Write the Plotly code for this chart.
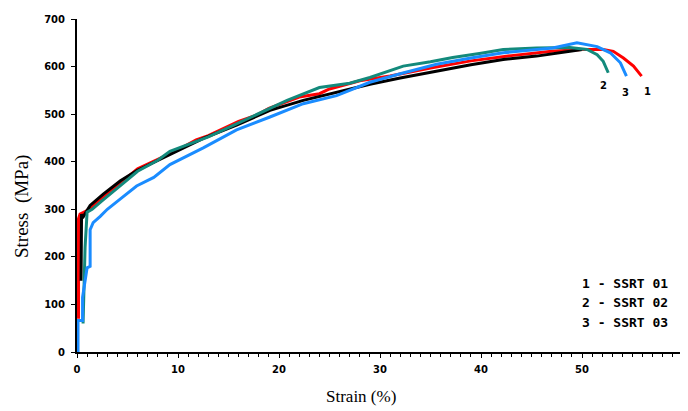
import plotly.graph_objects as go

# ---- data ----
red_strain = [0.15, 0.15, 0.3, 0.8, 1.5, 2.5, 4, 6, 8, 10, 11.8, 13, 16, 17.8, 19, 22, 24, 25, 28, 31, 35, 39, 43, 47, 50, 52.1, 53.1, 54.1, 55.1, 55.9]
red_stress = [70, 280, 290, 295, 305, 325, 350, 385, 405, 425, 446, 455, 485, 498, 512, 536, 543, 553, 570, 580, 597, 612, 623, 632, 636, 636, 632, 618, 601, 580]

black_strain = [0.4, 0.45, 0.55, 0.8, 1.3, 2.6, 4.3, 5.9, 9.2, 12.5, 15.8, 19.1, 22.4, 25.7, 29, 32, 35.6, 39, 42.2, 45.5, 48.8, 50]
black_stress = [150, 290, 282, 290, 308, 332, 360, 381, 415, 449, 477, 508, 529, 546, 563, 576, 591, 604, 615, 622, 632, 636]

teal_strain = [0.6, 0.7, 0.8, 1.0, 1.5, 2.5, 4, 6, 8, 9.2, 13, 15.8, 19, 20.8, 24, 27, 29, 32.3, 35, 37.2, 40, 42.2, 45.5, 48.8, 50.5, 51.5, 52.1, 52.6]
teal_stress = [60, 150, 220, 294, 300, 318, 345, 380, 403, 422, 452, 480, 512, 529, 556, 565, 577, 601, 610, 619, 628, 636, 639, 640, 636, 625, 611, 587]

blue_strain = [0.1, 0.1, 0.55, 0.55, 1.0, 1.3, 1.3, 1.6, 2.3, 3, 4.3, 5.9, 7.6, 9.2, 12.5, 15.8, 19.1, 22.4, 25.7, 29, 32, 35.6, 39, 42.2, 47.1, 49.5, 51.5, 52.8, 53.8, 54.4]
blue_stress = [0, 66, 66, 115, 177, 180, 257, 272, 285, 300, 322, 349, 367, 394, 429, 467, 494, 522, 539, 567, 585, 605, 618, 629, 639, 650, 642, 629, 608, 580]

curve_labels = ["1", "2", "3"]
curve_label_x = [56.5, 52.1, 54.3]
curve_label_y = [547, 560, 546]

legend_lines = ["1 - SSRT 01", "2 - SSRT 02", "3 - SSRT 03"]
legend_y = [143, 104, 63]
legend_x = 49.8

x_ticks = [0, 10, 20, 30, 40, 50, 60]
y_ticks = [0, 100, 200, 300, 400, 500, 600, 700]

fig = go.Figure()
for xs, ys, col in [(red_strain, red_stress, "#ff0000"),
                    (black_strain, black_stress, "#000000"),
                    (teal_strain, teal_stress, "#138a7c"),
                    (blue_strain, blue_stress, "#1a8cff")]:
    fig.add_trace(go.Scatter(x=xs, y=ys, mode="lines",
                             line=dict(color=col, width=3), showlegend=False))

small = dict(family="DejaVu Sans", size=10, color="black", weight="bold")

for t, x, y in zip(curve_labels, curve_label_x, curve_label_y):
    fig.add_annotation(x=x, y=y, text=t, showarrow=False, font=small)

for t, y in zip(legend_lines, legend_y):
    fig.add_annotation(x=legend_x, y=y, text=t, showarrow=False, xanchor="left",
                       font=dict(family="DejaVu Sans Mono", size=13, color="black", weight="bold"))

fig.add_annotation(xref="paper", yref="paper", x=-0.091, y=0.438, text="Stress  (MPa)",
                   textangle=-90, showarrow=False, xanchor="center", yanchor="middle",
                   font=dict(family="Liberation Serif", size=19, color="black"))
fig.add_annotation(xref="paper", yref="paper", x=0.4686, y=-0.133, text="Strain (%)",
                   showarrow=False, xanchor="center", yanchor="middle",
                   font=dict(family="Liberation Serif", size=17, color="black"))

fig.update_xaxes(range=[0, 60], tickvals=x_ticks, ticktext=[str(v) for v in x_ticks],
                 showline=True, linecolor="black", linewidth=2, ticks="outside",
                 ticklen=4, tickwidth=1, tickcolor="black", showgrid=False, zeroline=False,
                 minor=dict(dtick=1, ticks="outside", ticklen=3, tickcolor="black", showgrid=False),
                 tickfont=small, ticklabelstandoff=3)
fig.update_yaxes(range=[0, 700], tickvals=y_ticks, ticktext=[str(v) for v in y_ticks],
                 showline=True, linecolor="black", linewidth=2, ticks="outside",
                 ticklen=4, tickwidth=1, tickcolor="black", showgrid=False, zeroline=False,
                 tickfont=small, ticklabelstandoff=4)

# page body has an 8px default margin, so the figure is sized to end at the window edge
fig.update_layout(width=680, height=403, margin=dict(l=69, r=5, t=6, b=59),
                  plot_bgcolor="white", paper_bgcolor="white")

fig.write_html("out.html")
